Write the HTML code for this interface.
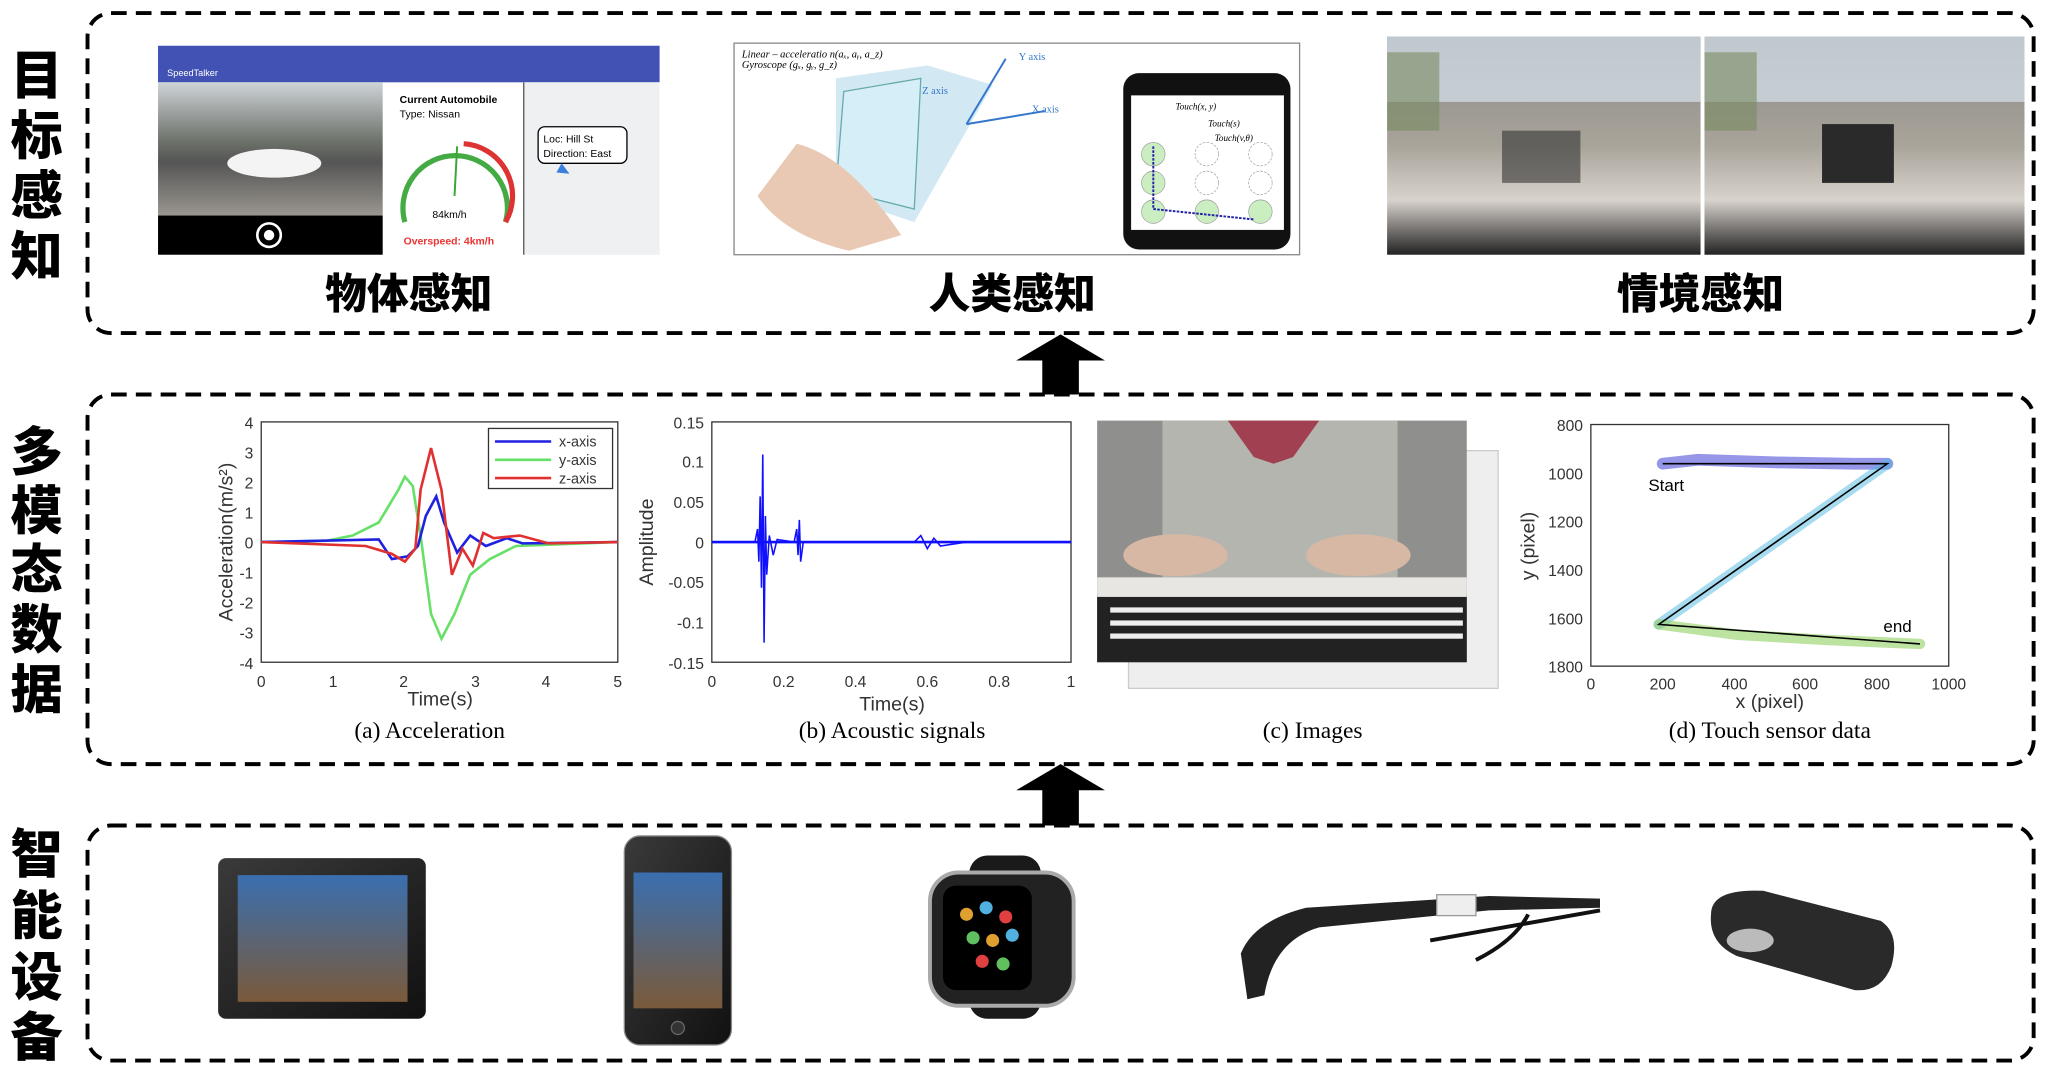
<!DOCTYPE html>
<html><head><meta charset="utf-8"><style>
html,body{margin:0;padding:0;background:#fff;width:2048px;height:1075px;overflow:hidden}
svg{display:block}
text{font-family:"Liberation Sans","Noto Sans CJK SC",sans-serif}
.cn{font-family:"Noto Sans CJK SC","WenQuanYi Zen Hei",sans-serif;font-weight:900}
.ser{font-family:"Liberation Serif","Noto Serif CJK SC",serif}
</style></head><body>
<svg width="2048" height="1075" viewBox="0 0 1568 823" xmlns="http://www.w3.org/2000/svg">
<defs>
<linearGradient id="road" x1="0" y1="0" x2="0" y2="1"><stop offset="0" stop-color="#cfd4d8"/><stop offset="0.45" stop-color="#6b7068"/><stop offset="0.6" stop-color="#555"/><stop offset="1" stop-color="#9a968f"/></linearGradient>
<linearGradient id="photo" x1="0" y1="0" x2="0" y2="1"><stop offset="0" stop-color="#888"/><stop offset="0.5" stop-color="#a9a49a"/><stop offset="0.75" stop-color="#d8d2cc"/><stop offset="1" stop-color="#222"/></linearGradient>
<linearGradient id="dev" x1="0" y1="0" x2="1" y2="1"><stop offset="0" stop-color="#3a3a3a"/><stop offset="1" stop-color="#111"/></linearGradient>
<linearGradient id="scr" x1="0" y1="0" x2="0" y2="1"><stop offset="0" stop-color="#3a6fb0"/><stop offset="1" stop-color="#7a5a3a"/></linearGradient>
</defs>

<g class="cn" font-size="40" fill="#000" text-anchor="middle">
<text x="28" y="72">目</text><text x="28" y="118">标</text><text x="28" y="164">感</text><text x="28" y="210">知</text>
<text x="28" y="360">多</text><text x="28" y="405">模</text><text x="28" y="450">态</text><text x="28" y="496">数</text><text x="28" y="542">据</text>
<text x="28" y="668">智</text><text x="28" y="715">能</text><text x="28" y="762">设</text><text x="28" y="808">备</text>
</g>

<g fill="none" stroke="#000" stroke-width="3" stroke-dasharray="12,7">
<rect x="67" y="10" width="1490" height="245" rx="18"/>
<rect x="67" y="302" width="1490" height="283" rx="18"/>
<rect x="67" y="632" width="1490" height="180" rx="18"/>
</g>
<polygon points="812,256 846,276 826,276 826,302 798,302 798,276 778,276" fill="#000"/>
<polygon points="812,585 846,605 826,605 826,632 798,632 798,605 778,605" fill="#000"/>

<rect x="121" y="35" width="384" height="160" fill="#fff"/>
<rect x="121" y="35" width="384" height="28" fill="#4252b4"/>
<text x="128" y="58" font-size="7" fill="#fff">SpeedTalker</text>
<rect x="121" y="63" width="172" height="102" fill="url(#road)"/>
<ellipse cx="210" cy="125" rx="36" ry="11" fill="#f4f4f4"/>
<rect x="121" y="165" width="172" height="30" fill="#000"/>
<circle cx="206" cy="180" r="9" fill="none" stroke="#fff" stroke-width="2"/><circle cx="206" cy="180" r="4" fill="#fff"/>
<text x="306" y="79" font-size="8" font-weight="bold">Current Automobile</text>
<text x="306" y="90" font-size="8">Type: Nissan</text>
<path d="M310,170 A40,40 0 1 1 387,170" fill="none" stroke="#4a4" stroke-width="4"/>
<path d="M355,110 A40,40 0 0 1 387,170" fill="none" stroke="#d33" stroke-width="4"/>
<line x1="348" y1="150" x2="350" y2="112" stroke="#3a3" stroke-width="1.5"/>
<text x="331" y="167" font-size="8">84km/h</text>
<text x="309" y="187" font-size="8" fill="#e33" font-weight="bold">Overspeed: 4km/h</text>
<rect x="401" y="63" width="104" height="132" fill="#eef0f2"/>
<line x1="401" y1="63" x2="401" y2="195" stroke="#555"/>
<rect x="412" y="97" width="68" height="28" rx="5" fill="#fff" stroke="#000"/>
<text x="416" y="109" font-size="8">Loc: Hill St</text><text x="416" y="120" font-size="8">Direction: East</text>
<polygon points="430,125 436,133 426,132" fill="#3b7fe0"/>

<rect x="562" y="33" width="433" height="162" fill="#fff" stroke="#888"/>
<text x="568" y="44" font-size="8" class="ser" font-style="italic">Linear – acceleratio n(aₓ, aᵧ, a_z)</text>
<text x="568" y="52" font-size="8" class="ser" font-style="italic">Gyroscope (gₓ, gᵧ, g_z)</text>
<path d="M640,60 L710,50 L760,65 L700,170 L640,150 Z" fill="#bfe0f0" opacity="0.7"/>
<path d="M646,70 L705,60 L700,160 L640,145 Z" fill="#d6eef7" stroke="#6aa" />
<path d="M610,110 Q650,120 690,180 L650,192 Q600,180 580,150 Z" fill="#eac9b4"/>
<line x1="740" y1="95" x2="770" y2="45" stroke="#37c" stroke-width="1.5"/>
<line x1="740" y1="95" x2="800" y2="85" stroke="#37c" stroke-width="1.5"/>
<text x="780" y="46" font-size="8" fill="#37c" class="ser">Y axis</text>
<text x="790" y="86" font-size="8" fill="#37c" class="ser">X axis</text>
<text x="706" y="72" font-size="8" fill="#37c" class="ser">Z axis</text>
<rect x="860" y="56" width="128" height="135" rx="12" fill="#111"/>
<rect x="866" y="73" width="117" height="103" fill="#fff"/>
<g fill="#cbeec0" stroke="#999" stroke-width="0.5">
<circle cx="883" cy="118" r="9"/><circle cx="883" cy="140" r="9"/><circle cx="883" cy="162" r="9"/><circle cx="924" cy="162" r="9"/><circle cx="965" cy="162" r="9"/></g>
<g fill="none" stroke="#999" stroke-width="0.5" stroke-dasharray="2,1"><circle cx="924" cy="118" r="9"/><circle cx="965" cy="118" r="9"/><circle cx="924" cy="140" r="9"/><circle cx="965" cy="140" r="9"/></g>
<polyline points="883,112 883,160 960,168" fill="none" stroke="#22a" stroke-width="1.5" stroke-dasharray="2,1"/>
<text x="900" y="84" font-size="7" class="ser" font-style="italic">Touch(x, y)</text>
<text x="925" y="97" font-size="7" class="ser" font-style="italic">Touch(s)</text>
<text x="930" y="108" font-size="7" class="ser" font-style="italic">Touch(v,θ)</text>

<rect x="1062" y="28" width="240" height="167" fill="url(#photo)"/>
<rect x="1305" y="28" width="245" height="167" fill="url(#photo)"/>
<rect x="1062" y="28" width="240" height="50" fill="#d8e4ee" opacity="0.7"/>
<rect x="1305" y="28" width="245" height="50" fill="#d8e4ee" opacity="0.7"/>
<rect x="1062" y="40" width="40" height="60" fill="#7a8a60" opacity="0.6"/>
<rect x="1305" y="40" width="40" height="60" fill="#7a8a60" opacity="0.6"/>
<rect x="1150" y="100" width="60" height="40" fill="#333" opacity="0.6"/>
<rect x="1395" y="95" width="55" height="45" fill="#2a2a2a"/>

<g class="cn" font-size="32" text-anchor="middle" fill="#000">
<text x="313" y="236">物体感知</text><text x="775" y="236">人类感知</text><text x="1302" y="236">情境感知</text>
</g>

<rect x="200" y="323" width="273" height="184" fill="none" stroke="#333"/>
<g font-size="12" fill="#333" text-anchor="end">
<text x="194" y="328">4</text><text x="194" y="351">3</text><text x="194" y="374">2</text><text x="194" y="397">1</text><text x="194" y="420">0</text><text x="194" y="443">-1</text><text x="194" y="466">-2</text><text x="194" y="489">-3</text><text x="194" y="512">-4</text></g>
<g font-size="12" fill="#333" text-anchor="middle">
<text x="200" y="526">0</text><text x="255" y="526">1</text><text x="309" y="526">2</text><text x="364" y="526">3</text><text x="418" y="526">4</text><text x="473" y="526">5</text></g>
<text x="337" y="540" font-size="15" text-anchor="middle" fill="#333">Time(s)</text>
<text transform="translate(178,415) rotate(-90)" font-size="15" text-anchor="middle" fill="#333">Acceleration(m/s²)</text>
<polyline fill="none" stroke="#66e066" stroke-width="2" points="200,415 250,414 270,410 290,400 305,375 310,365 316,372 322,410 330,470 338,489 348,470 360,440 375,428 395,418 473,415"/>
<polyline fill="none" stroke="#2020e0" stroke-width="2" points="200,415 290,413 300,428 312,426 320,418 326,395 334,380 340,400 350,423 360,410 372,418 388,412 400,416 473,415"/>
<polyline fill="none" stroke="#e03030" stroke-width="2" points="200,415 280,418 300,424 310,430 318,420 322,375 330,343 338,375 346,440 354,420 362,433 370,408 378,412 398,410 420,416 473,415"/>
<rect x="374" y="328" width="95" height="46" fill="#fff" stroke="#333"/>
<g font-size="11" fill="#333"><line x1="379" y1="338" x2="422" y2="338" stroke="#2020e0" stroke-width="2"/><text x="428" y="342">x-axis</text>
<line x1="379" y1="352" x2="422" y2="352" stroke="#66e066" stroke-width="2"/><text x="428" y="356">y-axis</text>
<line x1="379" y1="366" x2="422" y2="366" stroke="#e03030" stroke-width="2"/><text x="428" y="370">z-axis</text></g>
<text x="329" y="565" font-size="18" text-anchor="middle" class="ser">(a) Acceleration</text>

<rect x="545" y="323" width="275" height="184" fill="none" stroke="#333"/>
<g font-size="12" fill="#333" text-anchor="end">
<text x="539" y="328">0.15</text><text x="539" y="358">0.1</text><text x="539" y="389">0.05</text><text x="539" y="420">0</text><text x="539" y="450">-0.05</text><text x="539" y="481">-0.1</text><text x="539" y="512">-0.15</text></g>
<g font-size="12" fill="#333" text-anchor="middle">
<text x="545" y="526">0</text><text x="600" y="526">0.2</text><text x="655" y="526">0.4</text><text x="710" y="526">0.6</text><text x="765" y="526">0.8</text><text x="820" y="526">1</text></g>
<text x="683" y="544" font-size="15" text-anchor="middle" fill="#333">Time(s)</text>
<text transform="translate(500,415) rotate(-90)" font-size="15" text-anchor="middle" fill="#333">Amplitude</text>
<line x1="545" y1="415" x2="820" y2="415" stroke="#1010ff" stroke-width="2"/>
<polyline fill="none" stroke="#1010ff" stroke-width="1.2" points="578,415 580,405 581,430 582,380 583,450 584,348 585,492 586,395 587,440 589,410 592,425 595,413 608,415 610,405 611,425 612,398 613,430 615,415 700,415 705,410 710,420 715,412 720,418 740,415"/>
<text x="683" y="565" font-size="18" text-anchor="middle" class="ser">(b) Acoustic signals</text>

<rect x="864" y="345" width="283" height="182" fill="#eee" stroke="#ccc"/>
<rect x="840" y="322" width="283" height="185" fill="#8f8f8d"/>
<rect x="890" y="322" width="180" height="120" fill="#b5b5b0"/>
<path d="M940,322 L1010,322 L990,350 L975,355 L960,350 Z" fill="#a04050"/>
<rect x="840" y="455" width="283" height="52" fill="#222"/>
<rect x="840" y="442" width="283" height="15" fill="#e8e6e2"/>
<g fill="#eee"><rect x="850" y="465" width="270" height="4"/><rect x="850" y="475" width="270" height="4"/><rect x="850" y="485" width="270" height="4"/></g>
<ellipse cx="900" cy="425" rx="40" ry="16" fill="#d7b8a5"/><ellipse cx="1040" cy="425" rx="40" ry="16" fill="#d7b8a5"/>
<text x="1005" y="565" font-size="18" text-anchor="middle" class="ser">(c) Images</text>

<rect x="1218" y="325" width="274" height="185" fill="none" stroke="#333"/>
<g font-size="12" fill="#333" text-anchor="end">
<text x="1212" y="330">800</text><text x="1212" y="367">1000</text><text x="1212" y="404">1200</text><text x="1212" y="441">1400</text><text x="1212" y="478">1600</text><text x="1212" y="515">1800</text></g>
<g font-size="12" fill="#333" text-anchor="middle">
<text x="1218" y="528">0</text><text x="1273" y="528">200</text><text x="1328" y="528">400</text><text x="1382" y="528">600</text><text x="1437" y="528">800</text><text x="1492" y="528">1000</text></g>
<text x="1355" y="542" font-size="15" text-anchor="middle" fill="#333">x (pixel)</text>
<text transform="translate(1175,418) rotate(-90)" font-size="15" text-anchor="middle" fill="#333">y (pixel)</text>
<polyline fill="none" stroke="#5050d8" stroke-width="9" stroke-opacity="0.6" stroke-linecap="round" points="1273,355 1300,352 1360,354 1420,355 1445,355"/>
<polyline fill="none" stroke="#50b8e0" stroke-width="8" stroke-opacity="0.5" stroke-linecap="round" points="1445,355 1270,478"/>
<polyline fill="none" stroke="#90d060" stroke-width="8" stroke-opacity="0.6" stroke-linecap="round" points="1270,478 1330,486 1400,490 1470,493"/>
<polyline fill="none" stroke="#000" stroke-width="1.2" points="1273,355 1445,355 1270,478 1470,493"/>
<text x="1262" y="376" font-size="13">Start</text>
<text x="1442" y="484" font-size="13">end</text>
<text x="1355" y="565" font-size="18" text-anchor="middle" class="ser">(d) Touch sensor data</text>

<rect x="167" y="657" width="159" height="123" rx="6" fill="url(#dev)"/>
<rect x="182" y="670" width="130" height="97" fill="url(#scr)"/>
<rect x="478" y="640" width="82" height="160" rx="12" fill="url(#dev)" stroke="#888"/>
<rect x="485" y="668" width="68" height="104" fill="url(#scr)"/>
<circle cx="519" cy="787" r="5" fill="#333" stroke="#666"/>
<rect x="742" y="655" width="55" height="125" rx="14" fill="#1a1a1a"/>
<rect x="712" y="668" width="110" height="102" rx="22" fill="#222" stroke="#aaa" stroke-width="3"/>
<rect x="722" y="678" width="68" height="80" rx="10" fill="#000"/>
<g fill="#e0a030"><circle cx="740" cy="700" r="5"/><circle cx="755" cy="695" r="5" fill="#50b0e0"/><circle cx="770" cy="702" r="5" fill="#e04040"/><circle cx="745" cy="718" r="5" fill="#60c060"/><circle cx="760" cy="720" r="5"/><circle cx="775" cy="716" r="5" fill="#50b0e0"/><circle cx="752" cy="736" r="5" fill="#e04040"/><circle cx="768" cy="738" r="5" fill="#60c060"/></g>
<path d="M950,730 Q960,705 1000,695 L1140,686 L1225,688 L1225,695 L1140,697 L1010,710 Q975,720 968,762 L955,765 Z" fill="#222"/>
<rect x="1100" y="685" width="30" height="16" fill="#eee" stroke="#999"/>
<path d="M1095,720 L1225,697 M1130,735 Q1160,720 1170,700" stroke="#111" stroke-width="3" fill="none"/>
<path d="M1310,700 Q1310,680 1350,682 L1440,705 Q1455,715 1448,740 Q1440,760 1420,758 L1330,732 Q1308,722 1310,700 Z" fill="#2a2a2a"/>
<ellipse cx="1340" cy="720" rx="18" ry="9" fill="#bbb"/>
</svg>
</body></html>
